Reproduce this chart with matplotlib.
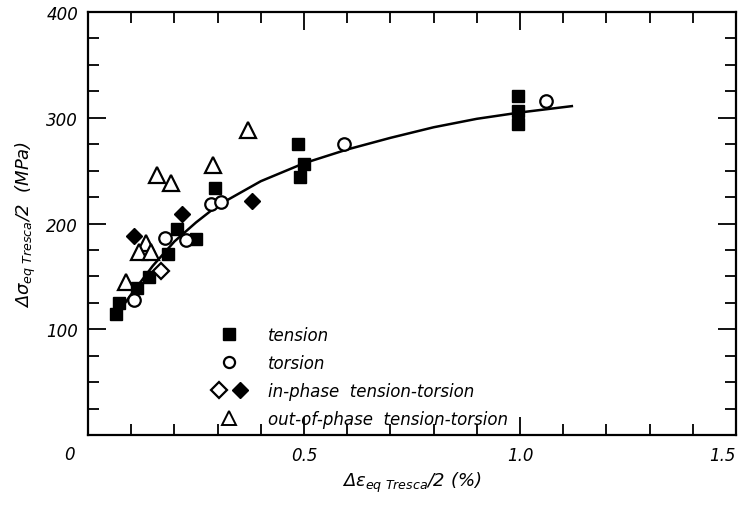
import matplotlib
matplotlib.use('Agg')
import matplotlib.pyplot as plt
from matplotlib.ticker import MultipleLocator
from matplotlib.lines import Line2D
from matplotlib.legend_handler import HandlerTuple

plt.rcParams['font.family'] = 'DejaVu Sans'
plt.rcParams['font.style'] = 'italic'
plt.rcParams['mathtext.fontset'] = 'custom'
plt.rcParams['mathtext.it'] = 'DejaVu Sans:italic'
plt.rcParams['mathtext.rm'] = 'DejaVu Sans:italic'
plt.rcParams['mathtext.default'] = 'it'

# 数据
tension_x = [0.065, 0.072, 0.114, 0.141, 0.185, 0.206, 0.250, 0.295, 0.487, 0.490, 0.500, 0.996, 0.996, 0.996]
tension_y = [114, 125, 139, 149, 171, 195, 185, 234, 275, 244, 256, 321, 306, 294]

torsion_x = [0.106, 0.178, 0.227, 0.284, 0.307, 0.592, 1.059]
torsion_y = [128, 186, 184, 218, 220, 275, 316]

inphase_open_x = [0.169]
inphase_open_y = [155]
inphase_fill_x = [0.106, 0.217, 0.379]
inphase_fill_y = [188, 209, 221]

outphase_x = [0.088, 0.134, 0.118, 0.146, 0.160, 0.192, 0.289, 0.370]
outphase_y = [145, 182, 173, 173, 246, 238, 255, 288]

curve_x = [0.06, 0.10, 0.15, 0.20, 0.25, 0.30, 0.40, 0.50, 0.60, 0.70, 0.80, 0.90, 1.00, 1.12]
curve_y = [110, 133, 160, 183, 201, 217, 240, 257, 270, 281, 291, 299, 305, 311]

fig = plt.figure(figsize=(7.47, 5.06), dpi=100)
ax = fig.add_axes([0.1178, 0.1383, 0.8675, 0.836])

ax.plot(curve_x, curve_y, color='black', lw=1.8, zorder=1)
ax.plot(tension_x, tension_y, 's', ms=9, color='black', zorder=3)
ax.plot(torsion_x, torsion_y, 'o', ms=9, mfc='white', mec='black', mew=1.6, zorder=3)
ax.plot(inphase_open_x, inphase_open_y, 'D', ms=8, mfc='white', mec='black', mew=1.6, zorder=3)
ax.plot(inphase_fill_x, inphase_fill_y, 'D', ms=8, color='black', zorder=3)
ax.plot(outphase_x, outphase_y, '^', ms=11, mfc='white', mec='black', mew=1.6, zorder=2)

ax.set_xlim(0, 1.5)
ax.set_ylim(0, 400)
ax.xaxis.set_major_locator(MultipleLocator(0.5))
ax.xaxis.set_minor_locator(MultipleLocator(0.1))
ax.yaxis.set_major_locator(MultipleLocator(100))
ax.yaxis.set_minor_locator(MultipleLocator(25))
ax.tick_params(which='both', direction='in', top=True, right=True, width=1.3, labelsize=12)
ax.tick_params(which='major', length=13)
ax.tick_params(which='minor', length=8)
ax.tick_params(axis='x', which='major', pad=8)
ax.tick_params(axis='y', which='major', pad=7)
ax.set_xticks([0.5, 1.0, 1.5])
ax.set_xticklabels(['0.5', '1.0', '1.5'])
ax.get_xticklabels()[-1].set_horizontalalignment('right')
ax.set_yticks([100, 200, 300, 400])
ax.set_yticklabels(['100', '200', '300', '400'])
for s in ax.spines.values():
    s.set_linewidth(1.6)

ax.text(-0.028, -0.045, '0', transform=ax.transAxes, fontsize=12, ha='center', va='center')

ax.set_xlabel(r'$\Delta\varepsilon_{eq\ Tresca}/2$ (%)', fontsize=13, labelpad=4)
ax.set_ylabel(r'$\Delta\sigma_{eq\ Tresca}/2$  (MPa)', fontsize=13, labelpad=6)

# 图例
h1 = Line2D([], [], marker='s', ls='', ms=9, color='black')
h2 = Line2D([], [], marker='o', ls='', ms=8, mfc='white', mec='black', mew=1.6)
h3a = Line2D([], [], marker='D', ls='', ms=8, mfc='white', mec='black', mew=1.6)
h3b = Line2D([], [], marker='D', ls='', ms=8, color='black')
h4 = Line2D([], [], marker='^', ls='', ms=10, mfc='white', mec='black', mew=1.4)
ax.legend([h1, h2, (h3a, h3b), h4],
          ['tension', 'torsion', 'in-phase  tension-torsion', 'out-of-phase  tension-torsion'],
          handler_map={tuple: HandlerTuple(ndivide=None, pad=0.3)},
          loc='upper left', bbox_to_anchor=(0.19, 0.258), frameon=False,
          fontsize=12, handlelength=2.2, handletextpad=1.2, labelspacing=0.6,
          borderpad=0, borderaxespad=0)

fig.savefig('out.png', dpi=100)
